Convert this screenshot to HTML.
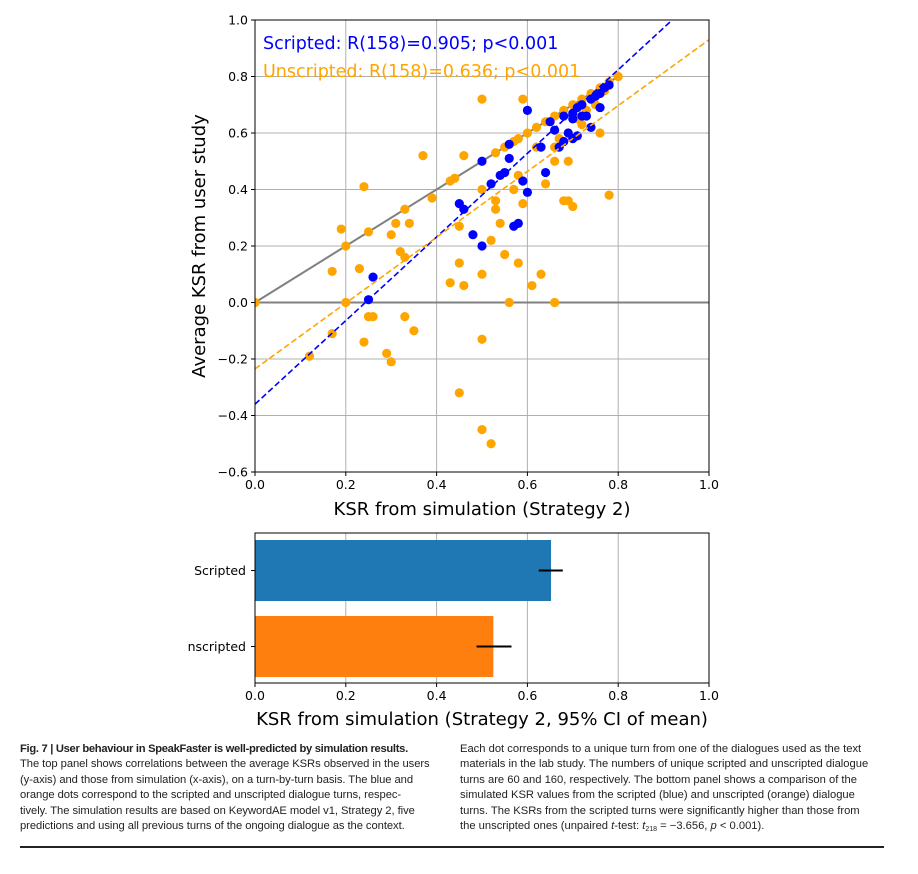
<!DOCTYPE html>
<html><head><meta charset="utf-8"><style>
body{margin:0;background:#fff;width:918px;height:874px;overflow:hidden;position:relative;font-family:"DejaVu Sans","Liberation Sans",sans-serif}
.cap{position:absolute;top:742px;font-family:"Liberation Sans",sans-serif;font-size:11.2px;line-height:15.4px;color:#222;letter-spacing:0px;white-space:nowrap}
</style></head><body>
<svg id="chart" width="918" height="735" style="position:absolute;left:0;top:0" font-family="DejaVu Sans, Liberation Sans, sans-serif"></svg>
<div class="cap" style="left:20px;letter-spacing:-0.05px"><b style="letter-spacing:-0.3px">Fig. 7 | User behaviour in SpeakFaster is well-predicted by simulation results.</b><br>The top panel shows correlations between the average KSRs observed in the users<br>(y-axis) and those from simulation (x-axis), on a turn-by-turn basis. The blue and<br>orange dots correspond to the scripted and unscripted dialogue turns, respec-<br>tively. The simulation results are based on KeywordAE model v1, Strategy 2, five<br>predictions and using all previous turns of the ongoing dialogue as the context.</div>
<div class="cap" style="left:460px">Each dot corresponds to a unique turn from one of the dialogues used as the text<br>materials in the lab study. The numbers of unique scripted and unscripted dialogue<br>turns are 60 and 160, respectively. The bottom panel shows a comparison of the<br>simulated KSR values from the scripted (blue) and unscripted (orange) dialogue<br>turns. The KSRs from the scripted turns were significantly higher than those from<br>the unscripted ones (unpaired <i>t</i>-test: <i>t</i><span style="font-size:7px;vertical-align:-2px">218</span> = −3.656, <i>p</i> &lt; 0.001).</div>
<div style="position:absolute;left:20px;top:846px;width:864px;height:2px;background:#222"></div>
<script>
const orangeX=[0.0,0.12,0.17,0.17,0.19,0.2,0.2,0.23,0.24,0.24,0.25,0.25,0.26,0.29,0.3,0.3,0.31,0.32,0.33,0.33,0.33,0.34,0.35,0.37,0.39,0.43,0.44,0.43,0.45,0.45,0.46,0.46,0.45,0.5,0.5,0.5,0.5,0.52,0.5,0.52,0.53,0.53,0.54,0.55,0.56,0.57,0.58,0.58,0.59,0.59,0.61,0.63,0.64,0.66,0.66,0.66,0.68,0.69,0.69,0.7,0.72,0.76,0.78,0.77,0.53,0.55,0.57,0.58,0.6,0.62,0.64,0.66,0.68,0.7,0.72,0.74,0.76,0.78,0.8,0.71,0.73,0.75,0.67,0.62];
const orangeY=[0.0,-0.19,-0.11,0.11,0.26,0.2,0.0,0.12,-0.14,0.41,0.25,-0.05,-0.05,-0.18,-0.21,0.24,0.28,0.18,0.16,-0.05,0.33,0.28,-0.1,0.52,0.37,0.43,0.44,0.07,0.14,0.27,0.52,0.06,-0.32,0.72,0.1,-0.13,-0.45,-0.5,0.4,0.22,0.33,0.36,0.28,0.17,0.0,0.4,0.14,0.45,0.72,0.35,0.06,0.1,0.42,0.0,0.5,0.55,0.36,0.5,0.36,0.34,0.63,0.6,0.38,0.75,0.53,0.55,0.57,0.58,0.6,0.62,0.64,0.66,0.68,0.7,0.72,0.74,0.76,0.78,0.8,0.65,0.68,0.7,0.58,0.55];
const blueX=[0.25,0.26,0.45,0.46,0.48,0.5,0.5,0.52,0.54,0.55,0.56,0.56,0.57,0.58,0.59,0.6,0.6,0.64,0.63,0.65,0.66,0.67,0.68,0.69,0.7,0.7,0.71,0.72,0.73,0.74,0.75,0.76,0.77,0.78,0.7,0.72,0.74,0.68,0.76,0.71];
const blueY=[0.01,0.09,0.35,0.33,0.24,0.2,0.5,0.42,0.45,0.46,0.51,0.56,0.27,0.28,0.43,0.39,0.68,0.46,0.55,0.64,0.61,0.55,0.57,0.6,0.58,0.67,0.69,0.7,0.66,0.72,0.73,0.74,0.76,0.77,0.65,0.66,0.62,0.66,0.69,0.59];
const barCats=["Scripted","nscripted"];
const barVals=[0.652,0.525];
const barLo=[0.625,0.488];
const barHi=[0.678,0.565];
const xTicks=[0,0.2,0.4,0.6,0.8,1.0];
const yTicks=[-0.6,-0.4,-0.2,0.0,0.2,0.4,0.6,0.8,1.0];

const svg=document.getElementById('chart');
const NS='http://www.w3.org/2000/svg';
function mk(t,a,p){const e=document.createElementNS(NS,t);for(const k in a)e.setAttribute(k,a[k]);(p||svg).appendChild(e);return e;}
const L=255,R=709,T=20,B=472;
const sx=v=>L+(R-L)*v;
const sy=v=>B-(B-T)*(v+0.6)/1.6;
const fmt=v=>(v<0?'\u2212':'')+Math.abs(v).toFixed(1);
const grid=mk('g',{});
xTicks.forEach(v=>mk('line',{x1:sx(v),x2:sx(v),y1:T,y2:B,stroke:'#b0b0b0','stroke-width':1},grid));
yTicks.forEach(v=>mk('line',{x1:L,x2:R,y1:sy(v),y2:sy(v),stroke:'#b0b0b0','stroke-width':1},grid));
const cl=mk('clipPath',{id:'cp'});mk('rect',{x:L,y:T,width:R-L,height:B-T},cl);
const zl=mk('line',{x1:L,x2:R,y1:sy(0),y2:sy(0),stroke:'#808080','stroke-width':2});

const id=mk('line',{x1:sx(0),y1:sy(0),x2:sx(0.8),y2:sy(0.8),stroke:'#808080','stroke-width':2});

const og=mk('g',{'clip-path':'url(#cp)'});
orangeX.forEach((x,i)=>{const c=mk('circle',{cx:sx(x),cy:sy(orangeY[i]),r:4.6,fill:'#ffa500'},og);});
const bg=mk('g',{'clip-path':'url(#cp)'});
blueX.forEach((x,i)=>{const c=mk('circle',{cx:sx(x),cy:sy(blueY[i]),r:4.6,fill:'#0000ff'},bg);});
const fits=[{b:-0.36,m:1.48,c:'#0000ff',n:'scripted-fit-line'},{b:-0.235,m:1.165,c:'#ffa500',n:'unscripted-fit-line'}];
fits.forEach(f=>{const l=mk('line',{x1:sx(0),y1:sy(f.b),x2:sx(1),y2:sy(f.b+f.m),stroke:f.c,'stroke-width':1.6,'stroke-dasharray':'6,3','clip-path':'url(#cp)'});});
mk('rect',{x:L,y:T,width:R-L,height:B-T,fill:'none',stroke:'#000','stroke-width':1});
xTicks.forEach(v=>{mk('line',{x1:sx(v),x2:sx(v),y1:B,y2:B+4,stroke:'#000'});const t=mk('text',{x:sx(v),y:B+17,'font-size':12.5,'text-anchor':'middle'});t.textContent=v.toFixed(1);});
yTicks.forEach(v=>{mk('line',{x1:L-4,x2:L,y1:sy(v),y2:sy(v),stroke:'#000'});const t=mk('text',{x:L-7,y:sy(v)+4.5,'font-size':12.5,'text-anchor':'end'});t.textContent=fmt(v);});
let t=mk('text',{x:482,y:515,'font-size':18,'text-anchor':'middle'});t.textContent='KSR from simulation (Strategy 2)';
t=mk('text',{x:0,y:0,'font-size':18,'text-anchor':'middle',transform:'translate(205,246) rotate(-90)'});t.textContent='Average KSR from user study';
t=mk('text',{x:263,y:49,'font-size':17.5,fill:'#0000ff'});t.textContent='Scripted: R(158)=0.905; p<0.001';
t=mk('text',{x:263,y:77,'font-size':17.5,fill:'#ffa500'});t.textContent='Unscripted: R(158)=0.636; p<0.001';
const BT=533,BB=683;
const bc=[{y0:540,y1:601,c:'#1f77b4'},{y0:616,y1:677,c:'#ff7f0e'}];
xTicks.forEach(v=>mk('line',{x1:sx(v),x2:sx(v),y1:BT,y2:BB,stroke:'#b0b0b0'}));
barCats.forEach((cat,i)=>{const b=bc[i];
 const r=mk('rect',{x:sx(0),y:b.y0,width:sx(barVals[i])-sx(0),height:b.y1-b.y0,fill:b.c});
 const ym=(b.y0+b.y1)/2;
 const e=mk('line',{x1:sx(barLo[i]),x2:sx(barHi[i]),y1:ym,y2:ym,stroke:'#000','stroke-width':2});
 mk('line',{x1:L-4,x2:L,y1:ym,y2:ym,stroke:'#000'});
 const tl=mk('text',{x:L-9,y:ym+4.5,'font-size':12.5,'text-anchor':'end'});tl.textContent=cat;
});
mk('rect',{x:L,y:BT,width:R-L,height:BB-BT,fill:'none',stroke:'#000'});
xTicks.forEach(v=>{mk('line',{x1:sx(v),x2:sx(v),y1:BB,y2:BB+4,stroke:'#000'});const tt=mk('text',{x:sx(v),y:BB+17,'font-size':12.5,'text-anchor':'middle'});tt.textContent=v.toFixed(1);});
t=mk('text',{x:482,y:725,'font-size':18,'text-anchor':'middle'});t.textContent='KSR from simulation (Strategy 2, 95% CI of mean)';
</script>
</body></html>
